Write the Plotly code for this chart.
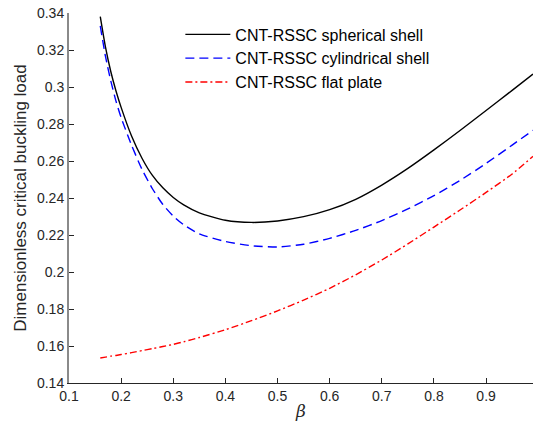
import plotly.graph_objects as go

beta = [0.16, 0.17, 0.18, 0.19, 0.20, 0.22, 0.24, 0.26, 0.28, 0.30, 0.32, 0.35, 0.40,
        0.45, 0.50, 0.55, 0.60, 0.65, 0.70, 0.75, 0.80, 0.85, 0.90, 0.95, 0.99]
spherical = [0.338, 0.3215, 0.3085, 0.2980, 0.2890, 0.2735, 0.2615, 0.2522, 0.2455,
             0.2403, 0.2363, 0.2320, 0.2280, 0.2268, 0.2276, 0.2299, 0.2337, 0.2393,
             0.2470, 0.2560, 0.2660, 0.2765, 0.2873, 0.2982, 0.3070]
cylindrical = [0.333, 0.3165, 0.3035, 0.2925, 0.2835, 0.2685, 0.2555, 0.2450, 0.2365,
               0.2302, 0.2255, 0.2206, 0.2165, 0.2142, 0.2135, 0.2150, 0.2182, 0.2225,
               0.2278, 0.2341, 0.2413, 0.2495, 0.2587, 0.2686, 0.2766]
flat = [0.1535, 0.1540, 0.1545, 0.1549, 0.1554, 0.1564, 0.1575, 0.1586, 0.1597,
        0.1609, 0.1623, 0.1646, 0.1688, 0.1737, 0.1790, 0.1848, 0.1912, 0.1985,
        0.2065, 0.2152, 0.2243, 0.2335, 0.2430, 0.2530, 0.2625]

names = ["CNT-RSSC spherical shell", "CNT-RSSC cylindrical shell", "CNT-RSSC flat plate"]
x_ticks = [0.1, 0.2, 0.3, 0.4, 0.5, 0.6, 0.7, 0.8, 0.9]
y_ticks = [0.14, 0.16, 0.18, 0.2, 0.22, 0.24, 0.26, 0.28, 0.3, 0.32, 0.34]
y_tick_text = ["0.14", "0.16", "0.18", "0.2", "0.22", "0.24", "0.26", "0.28", "0.3", "0.32", "0.34"]

fig = go.Figure()
fig.add_trace(go.Scatter(x=beta, y=spherical, mode="lines", name=names[0],
                         line=dict(color="#000000", width=1.4, shape="spline", smoothing=0.6)))
fig.add_trace(go.Scatter(x=beta, y=cylindrical, mode="lines", name=names[1],
                         line=dict(color="#0000ff", width=1.4, shape="spline", smoothing=0.6,
                                   dash="9px,5px")))
fig.add_trace(go.Scatter(x=beta, y=flat, mode="lines", name=names[2],
                         line=dict(color="#ff0000", width=1.4, shape="spline", smoothing=0.6,
                                   dash="7px,3px,2px,3px")))

font_family = "Liberation Sans, Arial, sans-serif"
fig.update_layout(
    width=534, height=423,
    margin=dict(l=69, r=1, t=13, b=40),
    plot_bgcolor="white", paper_bgcolor="white",
    font=dict(family=font_family, size=14, color="#262626"),
    showlegend=True,
    legend=dict(x=0.24, y=0.988, xanchor="left", yanchor="top",
                bgcolor="rgba(255,255,255,0)", borderwidth=0,
                font=dict(family=font_family, size=16, color="#000000"),
                itemwidth=45, tracegroupgap=0),
    xaxis=dict(range=[0.1, 0.99], tickvals=x_ticks, ticktext=[str(v) for v in x_ticks],
               ticks="inside", ticklen=5, tickcolor="#262626", showline=True,
               linecolor="#262626", linewidth=1, showgrid=False, zeroline=False,
               title=dict(text="<i>β</i>", font=dict(family="DejaVu Serif, serif", size=17), standoff=2),
               tickfont=dict(size=14)),
    yaxis=dict(range=[0.14, 0.34], tickvals=y_ticks, ticktext=y_tick_text,
               ticks="inside", ticklen=5, tickcolor="#262626", showline=True,
               linecolor="#8a8a8a", linewidth=2, showgrid=False, zeroline=False,
               title=dict(text="Dimensionless critical buckling load", font=dict(size=17), standoff=6),
               tickfont=dict(size=14)),
)

fig.write_html("out.html")
